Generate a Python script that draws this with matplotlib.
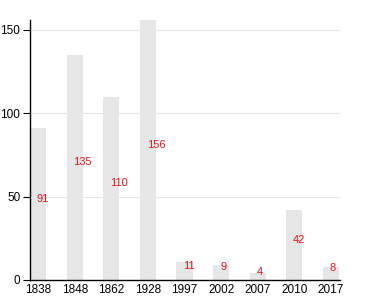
import matplotlib.pyplot as plt

plt.rcParams['font.family'] = ['Liberation Sans', 'DejaVu Sans']

years = ['1838', '1848', '1862', '1928', '1997', '2002', '2007', '2010', '2017']
values = [91, 135, 110, 156, 11, 9, 4, 42, 8]

fig = plt.figure(figsize=(3.8, 3.0), dpi=100)
ax = fig.add_axes([0.079, 0.0667, 0.816, 0.8667])

x = list(range(len(years)))
ax.bar(x, values, width=0.44, color='#e6e6e6', zorder=2)

for xi, v in zip(x, values):
    ax.text(xi - 0.03, v / 2, str(v), color='#e8141e', fontsize=8,
            ha='left', va='bottom', zorder=3)

ax.set_xlim(-0.22, 8.25)
ax.set_ylim(0, 156)
ax.set_xticks(x)
ax.set_xticklabels(years)
ax.set_yticks([0, 50, 100, 150])
ax.tick_params(axis='x', length=0, labelsize=8.5, pad=3)
ax.tick_params(axis='y', length=5, labelsize=8.5, pad=2)

ax.grid(axis='y', color='#e6e6e6', linewidth=0.8, zorder=0)
for s in ['top', 'right']:
    ax.spines[s].set_visible(False)
ax.spines['left'].set_linewidth(1)
ax.spines['bottom'].set_linewidth(1)

plt.savefig('out.png', dpi=100)
